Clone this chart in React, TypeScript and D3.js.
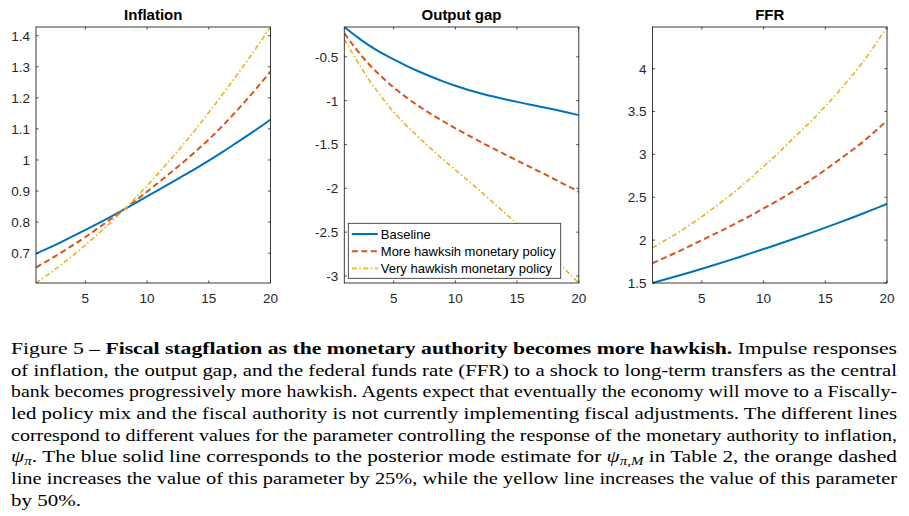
import React from 'react';
import * as d3 from 'd3';

const periods = [1, 2, 3, 4, 5, 6, 7, 8, 9, 10, 11, 12, 13, 14, 15, 16, 17, 18, 19, 20];

const inflationBaseline = [0.698, 0.716, 0.735, 0.755, 0.775, 0.795, 0.816, 0.838, 0.860, 0.883, 0.905, 0.928, 0.951, 0.974, 0.998, 1.023, 1.049, 1.075, 1.102, 1.130];
const inflationMore = [0.654, 0.677, 0.701, 0.726, 0.752, 0.780, 0.808, 0.837, 0.867, 0.898, 0.930, 0.962, 0.995, 1.030, 1.066, 1.105, 1.147, 1.191, 1.237, 1.285];
const inflationVery = [0.604, 0.632, 0.662, 0.693, 0.726, 0.761, 0.797, 0.835, 0.875, 0.917, 0.961, 1.006, 1.053, 1.102, 1.153, 1.205, 1.258, 1.313, 1.370, 1.428];

const gapBaseline = [-0.16, -0.27, -0.37, -0.455, -0.53, -0.60, -0.665, -0.725, -0.78, -0.83, -0.875, -0.915, -0.95, -0.983, -1.014, -1.043, -1.072, -1.102, -1.133, -1.165];
const gapMore = [-0.23, -0.42, -0.585, -0.725, -0.85, -0.96, -1.06, -1.15, -1.235, -1.315, -1.392, -1.467, -1.54, -1.612, -1.683, -1.753, -1.823, -1.894, -1.966, -2.04];
const gapVery = [-0.30, -0.54, -0.76, -0.955, -1.13, -1.28, -1.415, -1.545, -1.67, -1.79, -1.91, -2.03, -2.155, -2.28, -2.405, -2.535, -2.665, -2.80, -2.94, -3.08];

const ffrBaseline = [1.50, 1.540, 1.581, 1.623, 1.666, 1.710, 1.755, 1.801, 1.848, 1.896, 1.944, 1.993, 2.043, 2.094, 2.146, 2.199, 2.253, 2.308, 2.364, 2.421];
const ffrMore = [1.73, 1.795, 1.86, 1.93, 2.0, 2.07, 2.14, 2.215, 2.29, 2.37, 2.45, 2.535, 2.625, 2.72, 2.82, 2.925, 3.03, 3.14, 3.265, 3.395];
const ffrVery = [1.91, 1.995, 2.08, 2.175, 2.275, 2.38, 2.49, 2.605, 2.73, 2.86, 2.99, 3.13, 3.27, 3.41, 3.56, 3.72, 3.89, 4.07, 4.27, 4.486];

const seriesNames = ['Baseline', 'More hawksih monetary policy', 'Very hawkish monetary policy'];
const panelTitles = ['Inflation', 'Output gap', 'FFR'];
const inflationTicks = [0.7, 0.8, 0.9, 1, 1.1, 1.2, 1.3, 1.4];
const gapTicks = [-3, -2.5, -2, -1.5, -1, -0.5];
const ffrTicks = [1.5, 2, 2.5, 3, 3.5, 4];
const xTicks = [5, 10, 15, 20];

const COLORS = ['#0072BD', '#D95319', '#EDB120'];
const DASHES = [undefined, '6,3.5', '5,2.5,1.5,2.5'];
const WIDTHS = [2, 2, 1.6];
const AX = '#262626';
const FONT = "'Liberation Sans', Arial, Helvetica, sans-serif";

const PLOT_TOP = 27;
const PLOT_H = 256;
const PLOT_W = 234.5;
const LEFTS = [36, 344.3, 652.5];

type PanelProps = {
  left: number;
  title: string;
  series: number[][];
  yTicks: number[];
  legend?: boolean;
};

function Panel({ left, title, series, yTicks, legend }: PanelProps) {
  const x = d3.scaleLinear().domain([1, 20]).range([left, left + PLOT_W]);
  const all = series.flat();
  const ext = d3.extent(all) as [number, number];
  const y = d3.scaleLinear().domain(ext).range([PLOT_TOP + PLOT_H, PLOT_TOP]);
  const line = d3
    .line<number>()
    .x((_, i) => x(periods[i]))
    .y((d) => y(d))
    .curve(d3.curveMonotoneX);
  const tl = 2.6;
  const right = left + PLOT_W;
  const bottom = PLOT_TOP + PLOT_H;
  const clipId = `clip-${title.replace(/\s/g, '')}`;
  return (
    <g>
      <defs>
        <clipPath id={clipId}>
          <rect x={left} y={PLOT_TOP - 1} width={PLOT_W} height={PLOT_H + 2} />
        </clipPath>
      </defs>
      <rect x={left} y={PLOT_TOP} width={PLOT_W} height={PLOT_H} fill="#fff" />
      <g clipPath={`url(#${clipId})`}>
        {series.map((s, i) => (
          <path
            key={i}
            d={line(s) || ''}
            fill="none"
            stroke={COLORS[i]}
            strokeWidth={WIDTHS[i]}
            strokeDasharray={DASHES[i]}
          />
        ))}
      </g>
      {yTicks.map((t) => (
        <g key={`y${t}`}>
          <line x1={left} x2={left + tl} y1={y(t)} y2={y(t)} stroke={AX} strokeWidth={0.8} />
          <line x1={right} x2={right - tl} y1={y(t)} y2={y(t)} stroke={AX} strokeWidth={0.8} />
          <text x={left - 6} y={y(t)} dy="0.36em" textAnchor="end" fontSize={13.5} fontFamily={FONT} fill={AX}>
            {String(t)}
          </text>
        </g>
      ))}
      {xTicks.map((t) => (
        <g key={`x${t}`}>
          <line x1={x(t)} x2={x(t)} y1={bottom} y2={bottom - tl} stroke={AX} strokeWidth={0.8} />
          <line x1={x(t)} x2={x(t)} y1={PLOT_TOP} y2={PLOT_TOP + tl} stroke={AX} strokeWidth={0.8} />
          <text x={x(t)} y={bottom + 19.5} textAnchor="middle" fontSize={13.5} fontFamily={FONT} fill={AX}>
            {String(t)}
          </text>
        </g>
      ))}
      <rect x={left} y={PLOT_TOP} width={PLOT_W} height={PLOT_H} fill="none" stroke={AX} strokeWidth={0.9} />
      <text x={left + PLOT_W / 2} y={20} textAnchor="middle" fontSize={15} fontWeight="bold" fontFamily={FONT} fill="#000">
        {title}
      </text>
      {legend && (
        <g>
          <rect x={left + 4} y={223.3} width={212.4} height={55} fill="#fff" stroke={AX} strokeWidth={0.8} />
          {seriesNames.map((n, i) => {
            const cy = 234 + i * 17.2;
            return (
              <g key={n}>
                <line
                  x1={left + 7.5}
                  x2={left + 33.5}
                  y1={cy}
                  y2={cy}
                  stroke={COLORS[i]}
                  strokeWidth={WIDTHS[i]}
                  strokeDasharray={DASHES[i]}
                />
                <text x={left + 36.5} y={cy} dy="0.36em" fontSize={13} fontFamily={FONT} fill="#000">
                  {n}
                </text>
              </g>
            );
          })}
        </g>
      )}
    </g>
  );
}

const CAP_X = 11;
const CAP_W = 886;
const CAP_Y0 = 354;
const CAP_DY = 21.67;
const CAP_FONT = "'Liberation Serif', 'Times New Roman', serif";
const CAP_SIZE = 17;

const captionLines = [
  'of inflation, the output gap, and the federal funds rate (FFR) to a shock to long-term transfers as the central',
  'bank becomes progressively more hawkish. Agents expect that eventually the economy will move to a Fiscally-',
  'led policy mix and the fiscal authority is not currently implementing fiscal adjustments. The different lines',
  'correspond to different values for the parameter controlling the response of the monetary authority to inflation,',
];

export default function App() {
  const panels = [
    { title: panelTitles[0], series: [inflationBaseline, inflationMore, inflationVery], ticks: inflationTicks },
    { title: panelTitles[1], series: [gapBaseline, gapMore, gapVery], ticks: gapTicks, legend: true },
    { title: panelTitles[2], series: [ffrBaseline, ffrMore, ffrVery], ticks: ffrTicks },
  ];
  const lineY = (i: number) => CAP_Y0 + i * CAP_DY;
  return (
    <svg
      width={909}
      height={516}
      style={{ position: 'absolute', left: 0, top: 0, background: '#fff' }}
    >
      <rect x={0} y={0} width={909} height={516} fill="#fff" />
      {panels.map((p, i) => (
        <Panel key={p.title} left={LEFTS[i]} title={p.title} series={p.series} yTicks={p.ticks} legend={p.legend} />
      ))}
      <g fontFamily={CAP_FONT} fontSize={CAP_SIZE} fill="#000">
        <text x={CAP_X} y={lineY(0)} textLength={CAP_W} lengthAdjust="spacingAndGlyphs">
          <tspan>Figure 5 – </tspan>
          <tspan fontWeight="bold">Fiscal stagflation as the monetary authority becomes more hawkish.</tspan>
          <tspan> Impulse responses</tspan>
        </text>
        {captionLines.map((l, i) => (
          <text key={i} x={CAP_X} y={lineY(i + 1)} textLength={CAP_W} lengthAdjust="spacingAndGlyphs">
            {l}
          </text>
        ))}
        <text x={CAP_X} y={lineY(5)} textLength={CAP_W} lengthAdjust="spacingAndGlyphs">
          <tspan fontStyle="italic">ψ</tspan>
          <tspan fontStyle="italic" fontSize={12} dy={3}>π</tspan>
          <tspan dy={-3}>. The blue solid line corresponds to the posterior mode estimate for </tspan>
          <tspan fontStyle="italic">ψ</tspan>
          <tspan fontStyle="italic" fontSize={12} dy={3}>π,M</tspan>
          <tspan dy={-3}> in Table 2, the orange dashed</tspan>
        </text>
        <text x={CAP_X} y={lineY(6)} textLength={CAP_W} lengthAdjust="spacingAndGlyphs">
          line increases the value of this parameter by 25%, while the yellow line increases the value of this parameter
        </text>
        <text x={CAP_X} y={lineY(7)} textLength={70} lengthAdjust="spacingAndGlyphs">
          by 50%.
        </text>
      </g>
    </svg>
  );
}
